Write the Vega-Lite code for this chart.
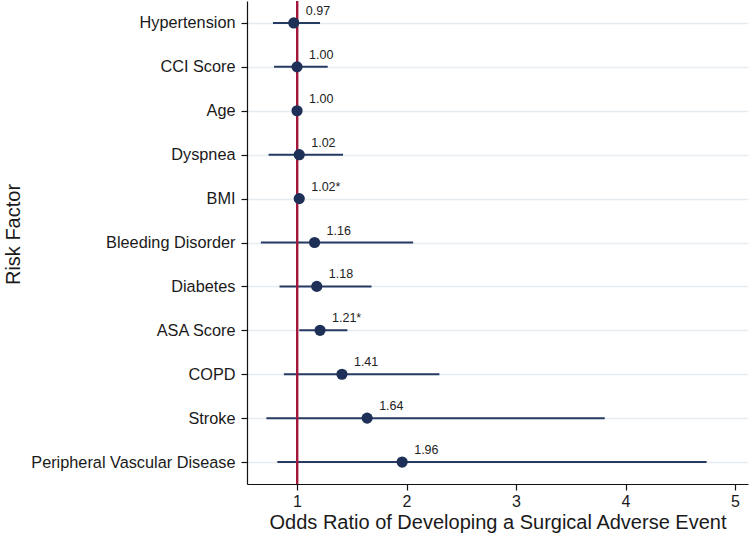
{
  "$schema": "https://vega.github.io/schema/vega-lite/v6.json",
  "autosize": "none",
  "width": 501,
  "height": 483,
  "padding": {"left": 247, "top": 1, "right": 2, "bottom": 57},
  "background": "white",
  "config": {
    "view": {"stroke": null},
    "font": "Liberation Sans",
    "axis": {"labelFont": "Liberation Sans", "titleFont": "Liberation Sans", "titleFontWeight": "normal", "labelColor": "#1a1a1a", "titleColor": "#1a1a1a", "domainColor": "#111111", "tickColor": "#111111", "tickSize": 6, "domainWidth": 1.2, "tickWidth": 1.2}
  },
  "data": {
    "values": [
      {"factor": "Hypertension", "or": 0.97, "lo": 0.78, "hi": 1.21, "label": "0.97"},
      {"factor": "CCI Score", "or": 1.0, "lo": 0.79, "hi": 1.28, "label": "1.00"},
      {"factor": "Age", "or": 1.0, "lo": 0.99, "hi": 1.01, "label": "1.00"},
      {"factor": "Dyspnea", "or": 1.02, "lo": 0.74, "hi": 1.42, "label": "1.02"},
      {"factor": "BMI", "or": 1.02, "lo": 1.01, "hi": 1.03, "label": "1.02*"},
      {"factor": "Bleeding Disorder", "or": 1.16, "lo": 0.67, "hi": 2.06, "label": "1.16"},
      {"factor": "Diabetes", "or": 1.18, "lo": 0.84, "hi": 1.68, "label": "1.18"},
      {"factor": "ASA Score", "or": 1.21, "lo": 1.02, "hi": 1.46, "label": "1.21*"},
      {"factor": "COPD", "or": 1.41, "lo": 0.88, "hi": 2.3, "label": "1.41"},
      {"factor": "Stroke", "or": 1.64, "lo": 0.72, "hi": 3.81, "label": "1.64"},
      {"factor": "Peripheral Vascular Disease", "or": 1.96, "lo": 0.82, "hi": 4.74, "label": "1.96"}
    ]
  },
  "encoding": {
    "y": {
      "field": "factor", "type": "nominal", "sort": null,
      "scale": {"type": "point", "padding": 0.5},
      "axis": {"title": "Risk Factor", "titleFontSize": 20, "labelFontSize": 16.3, "labelPadding": 6, "labelLimit": 400, "titleX": -224, "titleY": 233, "grid": true, "gridColor": "#e6ecf0", "gridWidth": 1.5}
    }
  },
  "layer": [
    {
      "mark": {"type": "rule", "color": "#263b63", "strokeWidth": 2},
      "encoding": {
        "x": {"field": "lo", "type": "quantitative", "scale": {"domain": [0.543, 5.118], "nice": false, "zero": false},
          "axis": {"title": "Odds Ratio of Developing a Surgical Adverse Event", "titleFontSize": 20, "labelFontSize": 16, "values": [1, 2, 3, 4, 5], "format": "d", "grid": false, "labelPadding": 3, "titlePadding": 3}},
        "x2": {"field": "hi"}
      }
    },
    {
      "mark": {"type": "rule", "color": "#a3173c", "strokeWidth": 2},
      "encoding": {"x": {"datum": 1}, "y": null}
    },
    {
      "mark": {"type": "point", "filled": true, "opacity": 1, "size": 125, "color": "#1e3057"},
      "encoding": {"x": {"field": "or", "type": "quantitative"}}
    },
    {
      "mark": {"type": "text", "align": "left", "baseline": "middle", "dx": 12, "dy": -12, "fontSize": 12.5, "color": "#222222"},
      "encoding": {"x": {"field": "or", "type": "quantitative"}, "text": {"field": "label"}}
    }
  ]
}
